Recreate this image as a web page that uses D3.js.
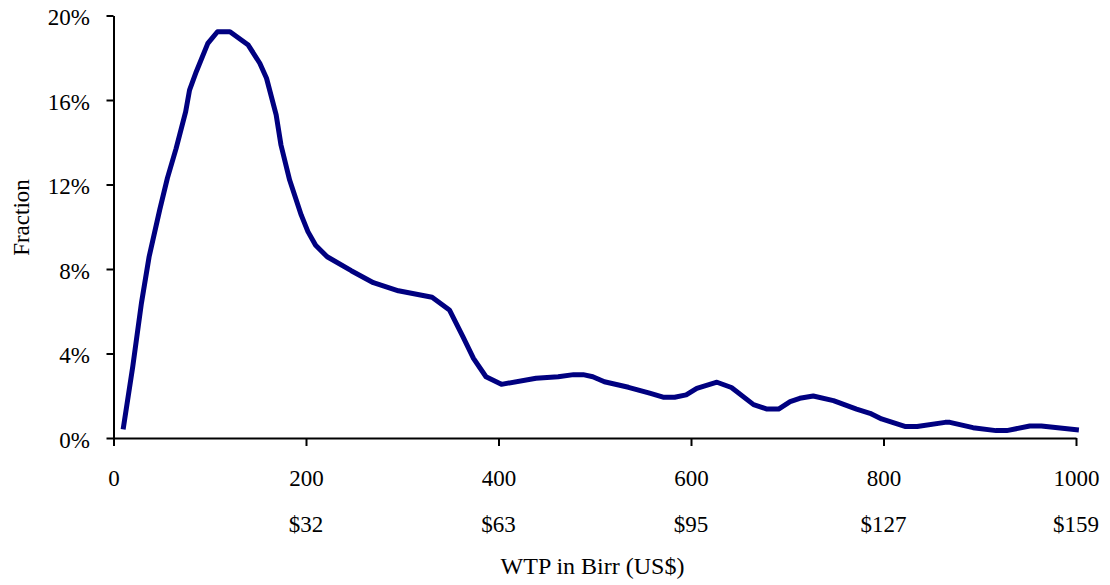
<!DOCTYPE html>
<html>
<head>
<meta charset="utf-8">
<script src="https://cdn.jsdelivr.net/npm/d3@7"></script>
<style>
  html, body { margin: 0; padding: 0; background: #fff; }
  svg { display: block; }
  text { font-family: "Liberation Serif", "Times New Roman", serif; fill: #000; }
</style>
</head>
<body>
<script>
// ---- data ----
const wtpBirr = [10, 20, 29, 37, 48, 56, 65, 75, 79, 86, 98, 108, 121, 140, 152, 159, 169, 174, 183, 195, 202, 210, 222, 247, 270, 296, 331, 349, 363, 374, 387, 403, 439, 462, 478, 488, 498, 510, 535, 557, 571, 583, 595, 606, 627, 642, 665, 679, 691, 703, 713, 727, 748, 772, 786, 798, 823, 835, 864, 869, 893, 917, 928, 952, 964, 1003];
const fractionPct = [0.41, 3.38, 6.38, 8.58, 10.8, 12.3, 13.7, 15.45, 16.47, 17.34, 18.68, 19.23, 19.23, 18.6, 17.74, 17.03, 15.3, 13.87, 12.21, 10.56, 9.77, 9.12, 8.58, 7.92, 7.35, 6.97, 6.66, 6.06, 4.8, 3.77, 2.9, 2.54, 2.83, 2.9, 3.0, 3.0, 2.9, 2.66, 2.4, 2.12, 1.93, 1.93, 2.04, 2.35, 2.64, 2.39, 1.58, 1.37, 1.37, 1.72, 1.88, 1.99, 1.77, 1.37, 1.17, 0.9, 0.54, 0.54, 0.74, 0.74, 0.49, 0.35, 0.35, 0.57, 0.57, 0.38];
const xTicks = [0, 200, 400, 600, 800, 1000];
const usdTicks = [200, 400, 600, 800, 1000];
const usdLabels = ["$32", "$63", "$95", "$127", "$159"];
const yTicks = [0, 4, 8, 12, 16, 20];
const xTitle = "WTP in Birr (US$)";
const yTitle = "Fraction";

(function () {
  const W = 1110, H = 585;
  const mLeft = 113.5, mRight = 1076, mTop = 15.5, mBottom = 438;
  const fontSize = 23;
  const ff = '"Liberation Serif", "Times New Roman", serif';

  const svg = d3.select("body").append("svg").attr("width", W).attr("height", H);

  const x = d3.scaleLinear().domain([0, 1000]).range([mLeft, mRight]);
  const y = d3.scaleLinear().domain([0, 20]).range([mBottom, mTop]);

  // y axis
  const yAxis = svg.append("g").attr("transform", `translate(${mLeft},0)`)
    .call(d3.axisLeft(y).tickValues(yTicks).tickFormat(d => d + "%").tickSize(7).tickSizeOuter(0).tickPadding(16.5));
  yAxis.select(".domain").attr("stroke", "#000").attr("stroke-width", 2);
  yAxis.selectAll(".tick line").attr("stroke", "#000").attr("stroke-width", 2);
  yAxis.selectAll(".tick text").attr("font-size", fontSize).attr("dy", "0.4em").style("font-family", ff);

  // x axis
  const xAxis = svg.append("g").attr("transform", `translate(0,${mBottom})`)
    .call(d3.axisBottom(x).tickValues(xTicks).tickFormat(d3.format("d")).tickSize(8).tickSizeOuter(0));
  xAxis.select(".domain").attr("stroke", "#000").attr("stroke-width", 2);
  xAxis.selectAll(".tick line").attr("stroke", "#000").attr("stroke-width", 2);
  xAxis.selectAll(".tick text").attr("font-size", fontSize).attr("y", 48).attr("dy", 0).style("font-family", ff);

  // second row: US$ equivalents
  svg.append("g").selectAll("text").data(usdTicks).join("text")
    .attr("x", d => x(d)).attr("y", mBottom + 94)
    .attr("text-anchor", "middle").attr("font-size", fontSize)
    .text((d, i) => usdLabels[i]);

  // titles
  svg.append("text").attr("x", 592.5).attr("y", 574).attr("text-anchor", "middle")
    .attr("font-size", fontSize + 1).text(xTitle);
  svg.append("text").attr("transform", "translate(29,217.5) rotate(-90)")
    .attr("text-anchor", "middle").attr("font-size", fontSize).text(yTitle);

  // line
  const pts = wtpBirr.map((d, i) => [d, fractionPct[i]]);
  svg.append("path").datum(pts)
    .attr("fill", "none").attr("stroke", "#000080").attr("stroke-width", 5)
    .attr("stroke-linejoin", "round")
    .attr("d", d3.line().x(d => x(d[0])).y(d => y(d[1])).curve(d3.curveLinear));
})();
</script>
</body>
</html>
